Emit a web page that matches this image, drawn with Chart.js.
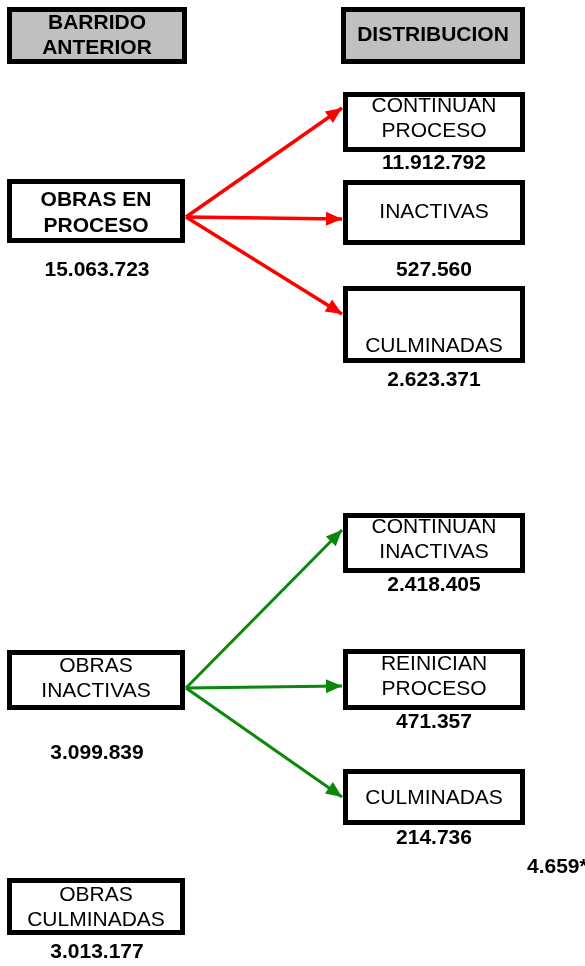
<!DOCTYPE html>
<html>
<head>
<meta charset="utf-8">
<script src="https://cdn.jsdelivr.net/npm/chart.js@4/dist/chart.umd.min.js"></script>
<style>
html,body{margin:0;padding:0;background:#fff;}
#wrap{width:585px;height:966px;position:relative;}
</style>
</head>
<body>
<div id="wrap"><canvas id="c" width="585" height="966"></canvas></div>
<script>
// ---------- DATA ----------
const headerLabels = ['BARRIDO\nANTERIOR', 'DISTRIBUCION'];
const sourceLabels = ['OBRAS EN\nPROCESO', 'OBRAS\nINACTIVAS', 'OBRAS\nCULMINADAS'];
const sourceValues = ['15.063.723', '3.099.839', '3.013.177'];
const procesoTargets = ['CONTINUAN\nPROCESO', 'INACTIVAS', 'CULMINADAS'];
const procesoValues = ['11.912.792', '527.560', '2.623.371'];
const inactivasTargets = ['CONTINUAN\nINACTIVAS', 'REINICIAN\nPROCESO', 'CULMINADAS'];
const inactivasValues = ['2.418.405', '471.357', '214.736'];
const footnoteValue = '4.659*';

// ---------- LAYOUT (pixel units of the chart scales) ----------
const L = {
  header: [ {x0:7,y0:7,x1:187,y1:64, lines:[23,48]}, {x0:341,y0:7,x1:525,y1:64, lines:[35]} ],
  source: [
    {x0:7,y0:179,x1:185,y1:243, lines:[200,226], bold:true, vy:270, from:[186,217]},
    {x0:7,y0:650,x1:185,y1:710, lines:[666,691], bold:false, vy:753, from:[186,688]},
    {x0:7,y0:878,x1:185,y1:935, lines:[895,920], bold:false, vy:952}
  ],
  proceso: [
    {x0:343,y0:92,x1:525,y1:152, lines:[106,131], vy:163, to:[342,108]},
    {x0:343,y0:180,x1:525,y1:245, lines:[212], vy:270, to:[342,219]},
    {x0:343,y0:286,x1:525,y1:363, lines:[346], vy:380, to:[342,314]}
  ],
  inactivas: [
    {x0:343,y0:513,x1:525,y1:573, lines:[527,552], vy:585, to:[342,530]},
    {x0:343,y0:649,x1:525,y1:710, lines:[664,689], vy:722, to:[342,686]},
    {x0:343,y0:769,x1:525,y1:825, lines:[798], vy:838, to:[342,797]}
  ],
  foot: {x:527, y:867}
};
const FONT = '"Liberation Sans", Arial, sans-serif';
const FS = 21;

function arrowDatasets(fromPt, targets, color, w) {
  return targets.map(t => ({
    data: [{x: fromPt[0], y: fromPt[1]}, {x: t.to[0], y: t.to[1]}],
    showLine: true, borderColor: color, borderWidth: w, pointRadius: 0,
    arrowColor: color
  }));
}
const datasets = [
  ...arrowDatasets(L.source[0].from, L.proceso, '#ff0000', 3.5),
  ...arrowDatasets(L.source[1].from, L.inactivas, '#0b870b', 3)
];

const boxPlugin = {
  id: 'boxes',
  beforeDatasetsDraw(chart) {
    const ctx = chart.ctx, xs = chart.scales.x, ys = chart.scales.y;
    const px = v => xs.getPixelForValue(v), py = v => ys.getPixelForValue(v);
    function box(b, fill) {
      const x0 = px(b.x0), x1 = px(b.x1), y0 = py(b.y0), y1 = py(b.y1);
      ctx.save();
      ctx.fillStyle = fill;
      ctx.fillRect(x0, y0, x1 - x0, y1 - y0);
      ctx.lineWidth = 5; ctx.strokeStyle = '#000';
      ctx.strokeRect(x0 + 2.5, y0 + 2.5, x1 - x0 - 5, y1 - y0 - 5);
      ctx.restore();
    }
    function text(str, cx, cy, bold, align) {
      ctx.save();
      ctx.fillStyle = '#000';
      ctx.font = (bold ? 'bold ' : '') + FS + 'px ' + FONT;
      ctx.textAlign = align || 'center'; ctx.textBaseline = 'middle';
      ctx.fillText(str, px(cx), py(cy));
      ctx.restore();
    }
    function labelled(b, label, bold) {
      const cx = (b.x0 + b.x1) / 2;
      label.split('\n').forEach((ln, i) => text(ln, cx, b.lines[i], bold));
    }
    headerLabels.forEach((lab, i) => { box(L.header[i], '#c0c0c0'); labelled(L.header[i], lab, true); });
    sourceLabels.forEach((lab, i) => {
      const b = L.source[i]; box(b, '#fff'); labelled(b, lab, b.bold);
      text(sourceValues[i], 97, b.vy, true);
    });
    procesoTargets.forEach((lab, i) => {
      const b = L.proceso[i]; box(b, '#fff'); labelled(b, lab, false);
      text(procesoValues[i], 434, b.vy, true);
    });
    inactivasTargets.forEach((lab, i) => {
      const b = L.inactivas[i]; box(b, '#fff'); labelled(b, lab, false);
      text(inactivasValues[i], 434, b.vy, true);
    });
    text(footnoteValue, L.foot.x, L.foot.y, true, 'left');
  },
  afterDatasetsDraw(chart) {
    const ctx = chart.ctx;
    chart.data.datasets.forEach((ds, i) => {
      const pts = chart.getDatasetMeta(i).data;
      if (pts.length < 2) return;
      const a = pts[0], b = pts[1];
      const ang = Math.atan2(b.y - a.y, b.x - a.x);
      const len = 16, half = 7;
      ctx.save();
      ctx.fillStyle = ds.arrowColor;
      ctx.beginPath();
      ctx.moveTo(b.x, b.y);
      ctx.lineTo(b.x - len * Math.cos(ang) + half * Math.sin(ang), b.y - len * Math.sin(ang) - half * Math.cos(ang));
      ctx.lineTo(b.x - len * Math.cos(ang) - half * Math.sin(ang), b.y - len * Math.sin(ang) + half * Math.cos(ang));
      ctx.closePath();
      ctx.fill();
      ctx.restore();
    });
  }
};

new Chart(document.getElementById('c'), {
  type: 'scatter',
  data: { datasets },
  options: {
    responsive: false, animation: false, devicePixelRatio: 1,
    layout: { padding: 0 },
    plugins: { legend: { display: false }, tooltip: { enabled: false } },
    scales: {
      x: { type: 'linear', min: 0, max: 585, display: false },
      y: { type: 'linear', min: 0, max: 966, reverse: true, display: false }
    }
  },
  plugins: [boxPlugin]
});
</script>
</body>
</html>
